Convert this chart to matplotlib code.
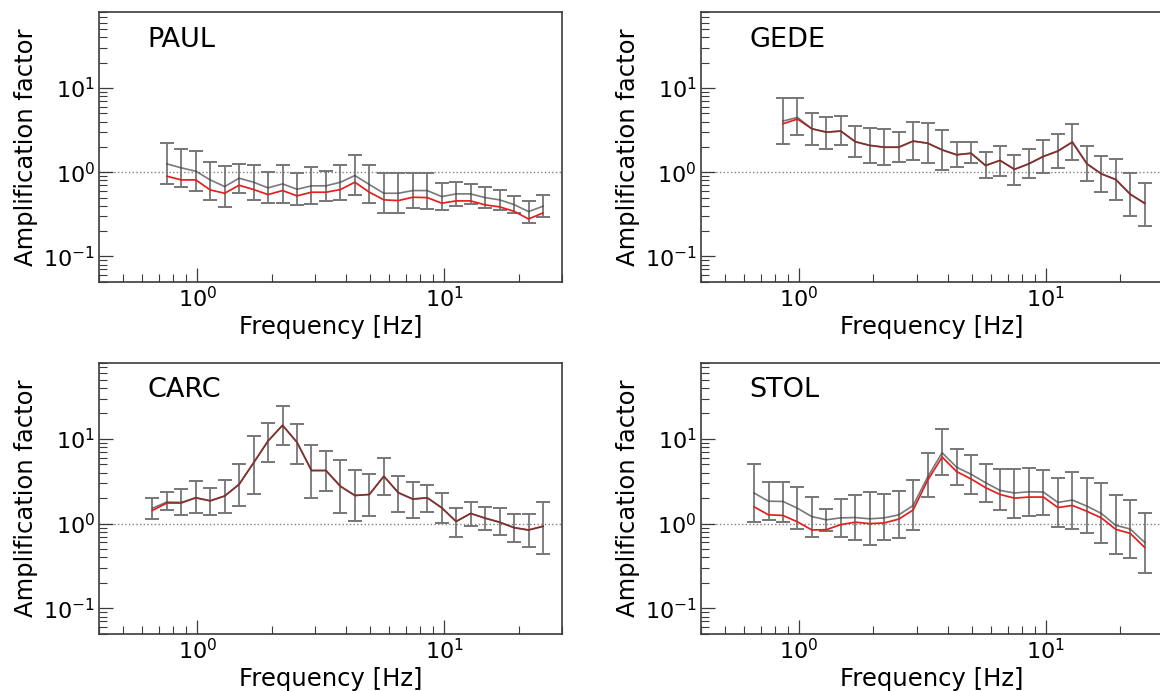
import numpy as np
import matplotlib
matplotlib.use("Agg")
import matplotlib.pyplot as plt

# ---------------- data ----------------
freq = [0.658, 0.753, 0.861, 0.986, 1.128, 1.291, 1.477, 1.691, 1.935, 2.215,
        2.535, 2.901, 3.320, 3.800, 4.349, 4.977, 5.696, 6.520, 7.462, 8.540,
        9.772, 11.18, 12.80, 14.65, 16.77, 19.19, 21.96, 25.13]

stations = ["PAUL", "GEDE", "CARC", "STOL"]
first_index = {"PAUL": 1, "GEDE": 2, "CARC": 0, "STOL": 0}

paul_gray = [1.256, 1.126, 1.028, 0.810, 0.675, 0.848, 0.760, 0.651, 0.726, 0.627,
             0.688, 0.688, 0.760, 0.913, 0.713, 0.562, 0.562, 0.605, 0.605, 0.513,
             0.552, 0.552, 0.499, 0.469, 0.412, 0.340, 0.394]
paul_red = [0.896, 0.810, 0.810, 0.616, 0.562, 0.700, 0.622, 0.542, 0.605, 0.523,
            0.578, 0.578, 0.622, 0.760, 0.578, 0.469, 0.460, 0.504, 0.499, 0.428,
            0.456, 0.456, 0.409, 0.387, 0.343, 0.278, 0.328]
paul_upper = [2.194, 1.878, 1.795, 1.316, 1.179, 1.268, 1.234, 1.000, 1.234, 0.991,
              1.147, 1.047, 1.234, 1.608, 1.211, 0.973, 0.973, 0.991, 0.982, 0.753,
              0.760, 0.726, 0.663, 0.616, 0.523, 0.456, 0.532]
paul_lower = [0.720, 0.663, 0.605, 0.473, 0.383, 0.567, 0.469, 0.431, 0.431, 0.405,
              0.420, 0.460, 0.464, 0.532, 0.428, 0.331, 0.325, 0.373, 0.370, 0.356,
              0.401, 0.420, 0.373, 0.356, 0.325, 0.247, 0.297]

gede_gray = [4.05, 4.47, 3.28, 2.99, 3.08, 2.30, 2.08, 1.98, 1.98, 2.34,
             2.21, 1.84, 1.61, 1.68, 1.20, 1.38, 1.08, 1.26, 1.54, 1.78,
             2.28, 1.26, 0.955, 0.818, 0.542, 0.431]
gede_red = [3.76, 4.27, 3.28, 2.99, 3.08, 2.30, 2.08, 1.98, 1.98, 2.34,
            2.21, 1.84, 1.61, 1.68, 1.20, 1.38, 1.08, 1.26, 1.54, 1.78,
            2.28, 1.26, 0.955, 0.818, 0.550, 0.425]
gede_upper = [7.60, 7.60, 5.09, 4.52, 4.60, 3.50, 3.37, 3.22, 3.02, 3.90,
              3.87, 3.13, 2.26, 2.26, 1.73, 2.06, 1.62, 1.91, 2.43, 2.83,
              3.73, 2.02, 1.54, 1.43, 0.973, 0.753]
gede_lower = [2.17, 2.78, 2.12, 1.90, 2.10, 1.51, 1.29, 1.23, 1.33, 1.38,
              1.28, 1.05, 1.15, 1.28, 0.856, 0.913, 0.713, 0.848, 0.982, 1.13,
              1.38, 0.796, 0.578, 0.473, 0.302, 0.232]

carc_gray = [1.52, 1.80, 1.78, 2.02, 1.86, 2.12, 2.91, 5.23, 9.47, 14.5,
             9.13, 4.24, 4.24, 2.76, 2.15, 2.21, 3.63, 2.32, 1.95, 2.02,
             1.54, 1.06, 1.32, 1.16, 1.04, 0.896, 0.841, 0.930]
carc_red = [1.43, 1.75, 1.75, 2.02, 1.86, 2.12, 2.91, 5.23, 9.47, 14.5,
            9.13, 4.24, 4.24, 2.76, 2.15, 2.21, 3.63, 2.32, 1.95, 2.02,
            1.54, 1.06, 1.32, 1.16, 1.04, 0.896, 0.841, 0.930]
carc_upper = [2.00, 2.34, 2.59, 3.22, 2.63, 3.31, 5.09, 10.96, 15.5, 24.5,
              15.1, 8.56, 7.26, 5.68, 4.27, 3.87, 6.00, 3.66, 3.13, 2.89,
              2.28, 1.52, 1.80, 1.59, 1.51, 1.29, 1.29, 1.78]
carc_lower = [1.14, 1.45, 1.26, 1.33, 1.26, 1.33, 1.62, 2.23, 5.37, 8.48,
              5.09, 2.00, 2.43, 1.32, 1.06, 1.23, 2.15, 1.39, 1.17, 1.39,
              1.01, 0.700, 0.947, 0.848, 0.726, 0.605, 0.527, 0.435]

stol_gray = [2.30, 1.84, 1.83, 1.52, 1.21, 1.11, 1.17, 1.18, 1.14, 1.17,
             1.27, 1.64, 3.56, 6.88, 4.64, 3.83, 3.05, 2.47, 2.30, 2.38,
             2.36, 1.78, 1.90, 1.61, 1.32, 0.955, 0.864, 0.600]
stol_red = [1.58, 1.27, 1.25, 1.05, 0.841, 0.848, 0.973, 1.04, 1.00, 1.02,
            1.13, 1.45, 3.25, 6.11, 4.12, 3.37, 2.66, 2.21, 2.00, 2.06,
            2.06, 1.55, 1.64, 1.40, 1.17, 0.856, 0.767, 0.523]
stol_upper = [5.04, 3.10, 3.13, 2.68, 2.06, 1.48, 1.95, 2.19, 2.36, 2.21,
              2.45, 3.31, 6.75, 13.2, 7.67, 6.45, 5.09, 4.39, 4.47, 4.60,
              4.35, 3.43, 4.08, 3.47, 3.02, 2.15, 1.91, 1.33]
stol_lower = [1.04, 1.09, 1.04, 0.864, 0.688, 0.810, 0.700, 0.645, 0.552, 0.633,
              0.669, 0.848, 2.06, 3.76, 2.86, 2.21, 1.80, 1.43, 1.17, 1.22,
              1.28, 0.904, 0.864, 0.767, 0.589, 0.435, 0.397, 0.259]

series = {
    "PAUL": (paul_gray, paul_red, paul_upper, paul_lower),
    "GEDE": (gede_gray, gede_red, gede_upper, gede_lower),
    "CARC": (carc_gray, carc_red, carc_upper, carc_lower),
    "STOL": (stol_gray, stol_red, stol_upper, stol_lower),
}

x_label = "Frequency [Hz]"
y_label = "Amplification factor"

# ---------------- figure ----------------
plt.rcParams["font.family"] = ["DejaVu Sans"]
W, H = 1160, 691
fig = plt.figure(figsize=(W / 100, H / 100), dpi=100)

aw = 463 / W
positions = {
    "PAUL": (99 / W, 1 - 281.7 / H, aw, (281.7 - 12) / H),
    "GEDE": (700.7 / W, 1 - 281.7 / H, aw, (281.7 - 12) / H),
    "CARC": (99 / W, 1 - 633.8 / H, aw, (633.8 - 362.5) / H),
    "STOL": (700.7 / W, 1 - 633.8 / H, aw, (633.8 - 362.5) / H),
}

spine_col = "#3c3c3c"
gray_col = "#404040"
err_col = "#767676"
red_col = "#e3201f"

for st in stations:
    ax = fig.add_axes(positions[st])
    g, r, up, lo = series[st]
    i0 = first_index[st]
    f = np.array(freq[i0:i0 + len(g)])
    g = np.array(g); r = np.array(r); up = np.array(up); lo = np.array(lo)

    ax.axhline(1.0, color="#808080", ls=":", lw=1.0, zorder=1)
    ax.errorbar(f, g, yerr=[g - lo, up - g], fmt="none", ecolor=err_col,
                elinewidth=1.3, capsize=4.8, capthick=1.4, zorder=2)
    ax.plot(f, r, color=red_col, lw=1.25, zorder=3)
    ax.plot(f, g, color=gray_col, lw=1.2, alpha=0.7, zorder=4)

    ax.set_xscale("log")
    ax.set_yscale("log")
    ax.set_xlim(0.4, 30)
    ax.set_ylim(0.05, 80)
    ax.yaxis.set_major_locator(matplotlib.ticker.LogLocator(base=10, numticks=10))
    ax.yaxis.set_minor_locator(matplotlib.ticker.LogLocator(base=10, subs=np.arange(2, 10), numticks=20))
    ax.xaxis.set_minor_locator(matplotlib.ticker.LogLocator(base=10, subs=np.arange(2, 10), numticks=20))
    ax.xaxis.set_minor_formatter(matplotlib.ticker.NullFormatter())
    ax.yaxis.set_minor_formatter(matplotlib.ticker.NullFormatter())

    ax.tick_params(which="major", direction="in", length=10, width=0.9,
                   color=spine_col, labelsize=16, pad=3)
    ax.tick_params(which="minor", direction="in", length=6, width=0.8,
                   color=spine_col)
    for sp in ax.spines.values():
        sp.set_color(spine_col)
        sp.set_linewidth(1.2)

    ax.set_xlabel(x_label, fontsize=17.5)
    ax.set_ylabel(y_label, fontsize=17.5)
    ax.xaxis.set_label_coords(0.5, -0.122)
    ax.yaxis.set_label_coords(-0.131, 0.5)
    ax.text(0.105, 0.945, st, transform=ax.transAxes, fontsize=19.5,
            ha="left", va="top")

fig.savefig("out.png", dpi=100)
